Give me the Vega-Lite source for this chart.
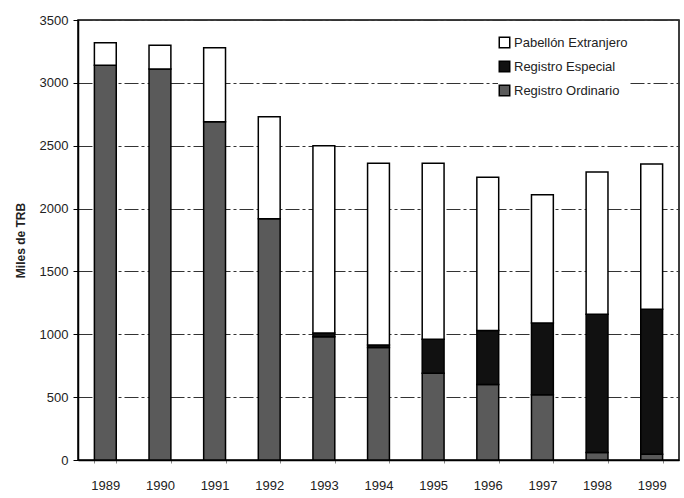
{
  "$schema": "https://vega.github.io/schema/vega-lite/v6.json",
  "autosize": "none",
  "padding": {"left": 78, "top": 20, "right": 5, "bottom": 38},
  "width": 601,
  "height": 440,
  "background": "white",
  "config": {
    "font": "Liberation Sans",
    "view": {"stroke": "black", "strokeWidth": 1.5}
  },
  "data": {
    "values": [
      {"anio": "1989", "serie": "Registro Ordinario", "trb": 3140},
      {"anio": "1989", "serie": "Pabellón Extranjero", "trb": 180},
      {"anio": "1990", "serie": "Registro Ordinario", "trb": 3110},
      {"anio": "1990", "serie": "Pabellón Extranjero", "trb": 190},
      {"anio": "1991", "serie": "Registro Ordinario", "trb": 2690},
      {"anio": "1991", "serie": "Pabellón Extranjero", "trb": 590},
      {"anio": "1992", "serie": "Registro Ordinario", "trb": 1920},
      {"anio": "1992", "serie": "Pabellón Extranjero", "trb": 810},
      {"anio": "1993", "serie": "Registro Ordinario", "trb": 980},
      {"anio": "1993", "serie": "Registro Especial", "trb": 30},
      {"anio": "1993", "serie": "Pabellón Extranjero", "trb": 1490},
      {"anio": "1994", "serie": "Registro Ordinario", "trb": 895},
      {"anio": "1994", "serie": "Registro Especial", "trb": 20},
      {"anio": "1994", "serie": "Pabellón Extranjero", "trb": 1445},
      {"anio": "1995", "serie": "Registro Ordinario", "trb": 690},
      {"anio": "1995", "serie": "Registro Especial", "trb": 270},
      {"anio": "1995", "serie": "Pabellón Extranjero", "trb": 1400},
      {"anio": "1996", "serie": "Registro Ordinario", "trb": 600},
      {"anio": "1996", "serie": "Registro Especial", "trb": 430},
      {"anio": "1996", "serie": "Pabellón Extranjero", "trb": 1220},
      {"anio": "1997", "serie": "Registro Ordinario", "trb": 520},
      {"anio": "1997", "serie": "Registro Especial", "trb": 570},
      {"anio": "1997", "serie": "Pabellón Extranjero", "trb": 1020},
      {"anio": "1998", "serie": "Registro Ordinario", "trb": 60},
      {"anio": "1998", "serie": "Registro Especial", "trb": 1100},
      {"anio": "1998", "serie": "Pabellón Extranjero", "trb": 1130},
      {"anio": "1999", "serie": "Registro Ordinario", "trb": 45},
      {"anio": "1999", "serie": "Registro Especial", "trb": 1155},
      {"anio": "1999", "serie": "Pabellón Extranjero", "trb": 1155}
    ]
  },
  "mark": {"type": "bar", "stroke": "black", "strokeWidth": 1.5},
  "encoding": {
    "x": {
      "field": "anio",
      "type": "ordinal",
      "scale": {"paddingInner": 0.6, "paddingOuter": 0.3},
      "axis": {
        "title": null,
        "labelAngle": 0,
        "labelFontSize": 13,
        "labelColor": "#222",
        "labelPadding": 16,
        "tickBand": "extent",
        "tickSize": 3,
        "tickColor": "#888",
        "domainColor": "black",
        "domainWidth": 1.5
      }
    },
    "y": {
      "field": "trb",
      "type": "quantitative",
      "aggregate": "sum",
      "stack": "zero",
      "scale": {"domain": [0, 3500], "nice": false},
      "axis": {
        "title": "Miles de TRB",
        "titleFontSize": 12,
        "titleFontWeight": "bold",
        "titleColor": "#222",
        "titlePadding": 12,
        "format": "d",
        "values": [0, 500, 1000, 1500, 2000, 2500, 3000, 3500],
        "labelFontSize": 13,
        "labelColor": "#222",
        "labelPadding": 5,
        "tickSize": 5,
        "tickColor": "black",
        "domainColor": "black",
        "domainWidth": 1.5,
        "grid": true,
        "gridColor": "#333",
        "gridWidth": 1.2,
        "gridDash": [14, 3, 3, 3]
      }
    },
    "color": {
      "field": "serie",
      "type": "nominal",
      "scale": {
        "domain": ["Pabellón Extranjero", "Registro Especial", "Registro Ordinario"],
        "range": ["white", "#111", "#5a5a5a"]
      },
      "legend": {
        "title": null,
        "orient": "none",
        "legendX": 420,
        "legendY": 16,
        "symbolType": "square",
        "symbolSize": 110,
        "symbolStrokeColor": "black",
        "symbolStrokeWidth": 1.5,
        "labelFontSize": 13,
        "labelColor": "#222",
        "labelOffset": 3,
        "rowPadding": 7,
        "fillColor": "white"
      }
    },
    "order": {"field": "serie", "sort": "descending"}
  }
}
